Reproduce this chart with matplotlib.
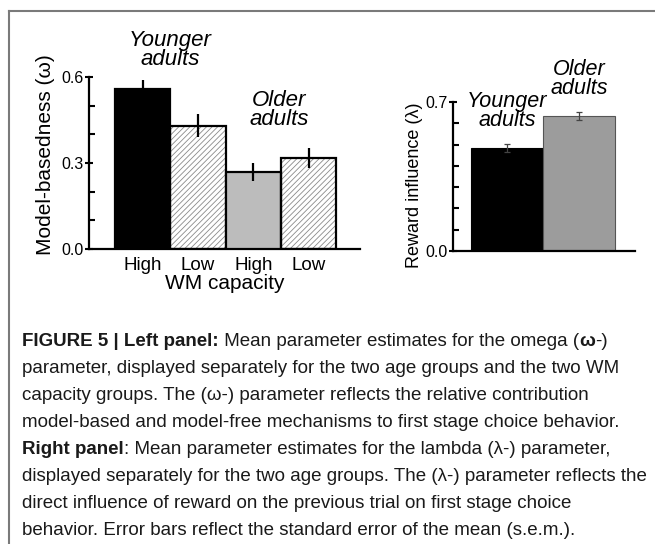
import matplotlib
matplotlib.use('Agg')
import matplotlib.pyplot as plt
from matplotlib.lines import Line2D
from matplotlib.ticker import MultipleLocator

plt.rcParams['font.family'] = ['Liberation Sans', 'DejaVu Sans']
plt.rcParams['hatch.linewidth'] = 0.6

# left panel: model-basedness (omega)
wm_labels = ['High', 'Low', 'High', 'Low']
omega_means = [0.558, 0.430, 0.268, 0.318]
omega_sem = [0.032, 0.040, 0.032, 0.034]
omega_colors = ['black', 'white', '#bcbcbc', 'white']
omega_hatch = [None, '//////', None, '//////']

# right panel: reward influence (lambda)
age_groups = ['Younger adults', 'Older adults']
lambda_means = [0.484, 0.634]
lambda_sem = [0.018, 0.018]
lambda_colors = ['black', '#9c9c9c']

fig = plt.figure(figsize=(6.55, 5.44), dpi=100)
W, H = 655, 544


def fx(px):
    return px / W


def fy(py):
    return 1 - py / H


# outer frame of the figure box
fig.add_artist(Line2D([fx(9), 1], [fy(11), fy(11)], color='#7a7a7a', lw=1.5))
fig.add_artist(Line2D([fx(9), fx(9)], [fy(11), 0], color='#7a7a7a', lw=1.5))

# ---- left panel
ax1 = fig.add_axes([fx(89), fy(249), fx(360) - fx(89), fy(77) - fy(249)])
x = range(len(omega_means))
for i in x:
    if omega_hatch[i]:
        ax1.bar(i, omega_means[i], width=1, color='white', hatch=omega_hatch[i],
                edgecolor='#8a8a8a', linewidth=0, zorder=2)
        ax1.bar(i, omega_means[i], width=1, fill=False, edgecolor='black',
                linewidth=1.6, zorder=3)
    else:
        ax1.bar(i, omega_means[i], width=1, color=omega_colors[i],
                edgecolor='black', linewidth=1.6, zorder=3)
ax1.errorbar(x, omega_means, yerr=omega_sem, fmt='none', ecolor='black',
             elinewidth=1.6, capsize=0, zorder=4)
ax1.set_xlim(-0.97, 3.93)
ax1.set_ylim(0, 0.6)
ax1.set_yticks([0.0, 0.3, 0.6])
ax1.set_yticklabels(['0.0', '0.3', '0.6'], fontsize=11.5)
ax1.yaxis.set_minor_locator(MultipleLocator(0.1))
ax1.set_xticks(list(x))
ax1.set_xticklabels(wm_labels, fontsize=13.5)
ax1.tick_params(axis='x', length=0, pad=6)
ax1.tick_params(axis='y', which='major', direction='inout', length=6, width=1.5, pad=1)
ax1.tick_params(axis='y', which='minor', direction='in', length=4, width=1.5)
for s in ['top', 'right']:
    ax1.spines[s].set_visible(False)
for s in ['left', 'bottom']:
    ax1.spines[s].set_linewidth(1.6)
ax1.set_xlabel('WM capacity', fontsize=15, labelpad=0)
ax1.set_ylabel('Model-basedness (ω)', fontsize=15)
ax1.yaxis.set_label_coords(-0.124, 0.55)
ax1.text(0.5, 0.694, 'Younger\nadults', fontsize=16, style='italic', ha='center',
         va='center', linespacing=0.85, clip_on=False)
ax1.text(2.47, 0.485, 'Older\nadults', fontsize=16, style='italic', ha='center',
         va='center', linespacing=0.85, clip_on=False)

# ---- right panel
ax2 = fig.add_axes([fx(453), fy(251), fx(635) - fx(453), fy(102) - fy(251)])
x2 = range(len(lambda_means))
ax2.bar(x2, lambda_means, width=1, color=lambda_colors, edgecolor=['black', '#555555'],
        linewidth=0.8, zorder=2)
ax2.errorbar(x2, lambda_means, yerr=lambda_sem, fmt='none', ecolor='#444444',
             elinewidth=0.9, capsize=2, capthick=0.9, zorder=3)
ax2.set_xlim(-0.75, 1.78)
ax2.set_ylim(0, 0.7)
ax2.set_yticks([0.0, 0.7])
ax2.set_yticklabels(['0.0', '0.7'], fontsize=11.5)
ax2.yaxis.set_minor_locator(MultipleLocator(0.1))
ax2.set_xticks([])
ax2.tick_params(axis='y', which='major', direction='inout', length=6, width=1.5, pad=1)
ax2.tick_params(axis='y', which='minor', direction='in', length=4, width=1.5)
for s in ['top', 'right']:
    ax2.spines[s].set_visible(False)
for s in ['left', 'bottom']:
    ax2.spines[s].set_linewidth(1.6)
ax2.set_ylabel('Reward influence (λ)', fontsize=13)
ax2.yaxis.set_label_coords(-0.165, 0.44)
ax2.text(0.0, 0.658, 'Younger\nadults', fontsize=15.5, style='italic', ha='center',
         va='center', linespacing=0.85, clip_on=False)
ax2.text(1.01, 0.808, 'Older\nadults', fontsize=15.5, style='italic', ha='center',
         va='center', linespacing=0.85, clip_on=False)

# ---- caption, drawn run by run so bold pieces sit inline
cap_font = ['Liberation Sans', 'DejaVu Sans']
cap_size = 13.5
caption = [
    [('FIGURE 5 | Left panel:', 'bold'), (' Mean parameter estimates for the omega (', 'normal'),
     ('ω', 'bold'), ('-)', 'normal')],
    [('parameter, displayed separately for the two age groups and the two WM', 'normal')],
    [('capacity groups. The (ω-) parameter reflects the relative contribution', 'normal')],
    [('model-based and model-free mechanisms to first stage choice behavior.', 'normal')],
    [('Right panel', 'bold'), (': Mean parameter estimates for the lambda (λ-) parameter,', 'normal')],
    [('displayed separately for the two age groups. The (λ-) parameter reflects the', 'normal')],
    [('direct influence of reward on the previous trial on first stage choice', 'normal')],
    [('behavior. Error bars reflect the standard error of the mean (s.e.m.).', 'normal')],
]
renderer = fig.canvas.get_renderer()
y0, dy = 342, 26.9
for k, runs in enumerate(caption):
    xp = 22
    for txt, wt in runs:
        t = fig.text(fx(xp), fy(y0 + k * dy), txt, fontsize=cap_size, fontweight=wt,
                     family=cap_font, ha='left', va='center', color='#1a1a1a')
        bb = t.get_window_extent(renderer=renderer)
        xp += bb.width

fig.savefig('out.png', dpi=100)
